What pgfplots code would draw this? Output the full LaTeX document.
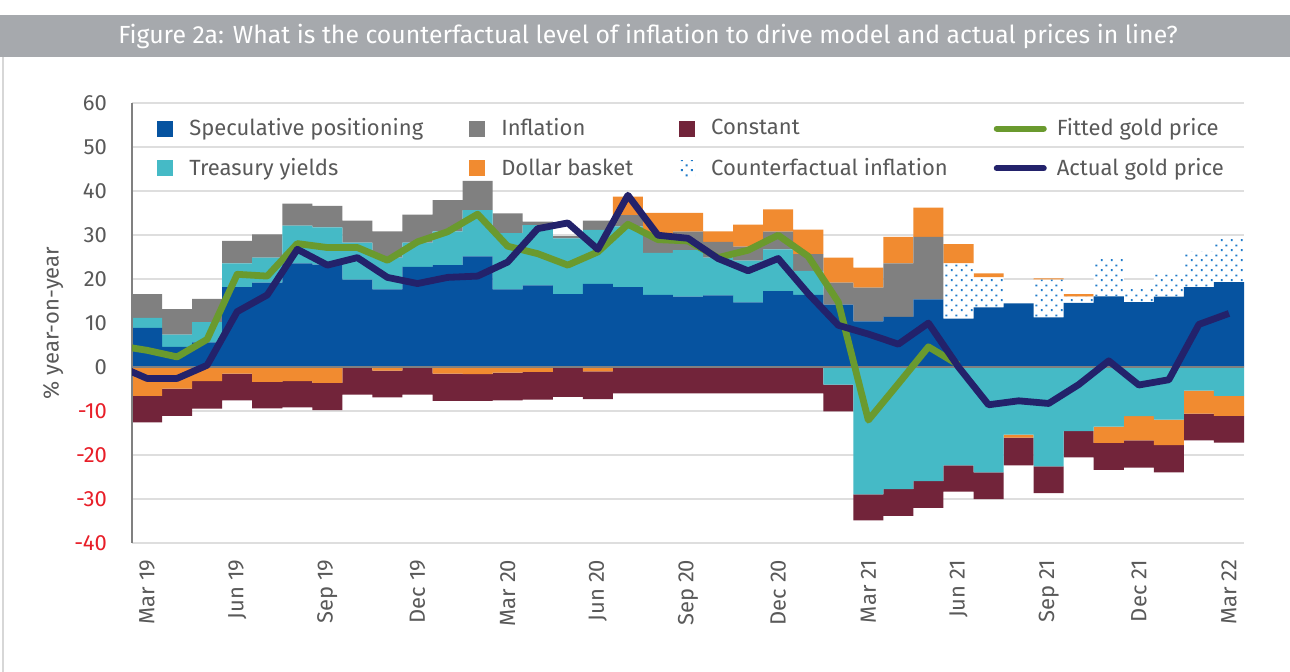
\documentclass[border=0pt]{standalone}
\usepackage{fontspec}
\setmainfont{Fira Sans}
\usepackage{pgfplots}
\pgfplotsset{compat=1.18}
\usepackage{pgfplotstable}
\usetikzlibrary{patterns,patterns.meta}

\definecolor{cSpec}{RGB}{6,83,160}
\definecolor{cTreas}{RGB}{69,186,198}
\definecolor{cInfl}{RGB}{128,128,128}
\definecolor{cDoll}{RGB}{241,139,48}
\definecolor{cConst}{RGB}{114,36,58}
\definecolor{cDot}{RGB}{31,122,200}
\definecolor{cFit}{RGB}{106,154,46}
\definecolor{cAct}{RGB}{35,34,107}
\definecolor{cTitle}{RGB}{166,169,173}
\definecolor{cText}{RGB}{89,89,89}
\definecolor{cNeg}{RGB}{232,30,40}
\definecolor{cGrid}{RGB}{222,222,222}
\definecolor{cAxisl}{RGB}{128,128,128}
\definecolor{cBorder}{RGB}{215,215,215}

\tikzdeclarepattern{
  name=cfdots,
  type=uncolored,
  bounding box={(0pt,0pt) and (5pt,5pt)},
  tile size={(5pt,5pt)},
  code={
    \pgfpathrectangle{\pgfpoint{0.5pt}{0.5pt}}{\pgfpoint{1pt}{1pt}}
    \pgfpathrectangle{\pgfpoint{3pt}{3pt}}{\pgfpoint{1pt}{1pt}}
    \pgfusepath{fill}
  }
}

\pgfplotstableread{
x spec treas infl cf dpos tneg dneg const
0 8.9 2.3 5.4 0 0 0 -6.6 -6.0
1 4.6 2.8 5.8 0 0 0 -4.9 -6.2
2 5.6 4.6 5.3 0 0 0 -3.2 -6.3
3 18.2 5.4 5.1 0 0 0 -1.5 -6.1
4 19.2 5.7 5.3 0 0 0 -3.4 -6.0
5 23.6 8.6 5.0 0 0 0 -3.2 -6.0
6 23.3 8.5 4.9 0 0 0 -3.6 -6.2
7 19.9 8.4 5.0 0 0 0 0 -6.3
8 17.7 7.2 6.0 0 0 0 -0.8 -6.1
9 22.8 5.5 6.4 0 0 0 0 -6.3
10 23.2 7.7 7.1 0 0 0 -1.5 -6.2
11 25.2 10.5 6.7 0 0 0 -1.6 -6.1
12 17.7 12.8 4.5 0 0 0 -1.3 -6.3
13 18.6 13.7 0.8 0 0 0 -1.1 -6.3
14 16.6 12.7 0.5 0 0 0 0 -6.8
15 18.9 12.3 2.1 0 0 0 -1.0 -6.3
16 18.2 13.8 2.6 0 4.2 0 0 -6.0
17 16.4 9.6 4.0 0 5.1 0 0 -6.0
18 16.0 10.6 4.2 0 4.3 0 0 -6.0
19 16.3 8.6 3.6 0 2.4 0 0 -6.0
20 14.7 9.5 3.2 0 5.0 0 0 -6.0
21 17.3 9.5 4.0 0 5.1 0 0 -6.0
22 16.4 5.5 3.8 0 5.6 0 0 -6.0
23 14.2 0 5.0 0 5.7 -4.0 0 -6.1
24 10.4 0 7.7 0 4.5 -29.0 0 -5.9
25 11.4 0 12.2 0 6.0 -27.8 0 -6.1
26 15.4 0 14.2 0 6.7 -26.0 0 -6.1
27 11.0 0 0 12.6 4.4 -22.4 0 -6.0
28 13.6 0 0 6.8 0.9 -24.0 0 -6.1
29 14.5 0 0 0 0 -15.4 -0.7 -6.3
30 11.3 0 0 8.6 0.3 -22.6 0 -6.1
31 14.6 0 0 1.4 0.6 -14.6 0 -6.0
32 16.1 0 0 8.7 0 -13.6 -3.7 -6.1
33 14.8 0 0 3.4 0 -11.2 -5.5 -6.2
34 16.0 0 0 5.1 0 -12.0 -5.8 -6.2
35 18.2 0 0 8.2 0 -5.4 -5.2 -6.1
36 19.3 0 0 10.0 0 -6.6 -4.5 -6.1
}\bars

\pgfplotstableread{
x fit act
-1 4.9 0.4
0 3.8 -2.6
1 2.3 -2.6
2 6.3 0.4
3 21.1 12.6
4 20.7 16.4
5 28.1 26.8
6 27.2 23.2
7 27.2 24.9
8 24.3 20.4
9 28.5 19.0
10 30.8 20.4
11 34.8 20.7
12 27.5 23.9
13 25.8 31.5
14 23.2 32.8
15 26.2 26.8
16 32.5 39.1
17 29.0 30.0
18 28.7 29.3
19 24.9 24.7
20 26.6 21.9
21 30.0 24.7
22 25.2 16.7
23 14.8 9.5
24 -12.1 7.5
25 -3.8 5.2
26 4.6 10.0
27 0.5 0.0
28 nan -8.6
29 nan -7.7
30 nan -8.3
31 nan -4.0
32 nan 1.4
33 nan -4.1
34 nan -2.9
35 nan 9.7
36 nan 12.2
}\lines

\pgfplotsset{
  base/.style={
    at={(66pt,64.65pt)}, anchor=south west,
    scale only axis, width=556pt, height=219.6pt,
    xmin=-0.5, xmax=36.5, ymin=-40, ymax=60,
    enlargelimits=false,
    axis line style={draw=none},
    tick style={draw=none},
    font=\fontsize{11}{13}\selectfont,
  },
  legbox/.style={legend image code/.code={\fill[##1] (0pt,-4pt) rectangle (8pt,4pt); \path (14pt,0pt);}},
  legline/.style={legend image code/.code={\draw[##1, line cap=round] (0pt,0pt) -- (23.5pt,0pt); \path (26.5pt,0pt);}},
}

\begin{document}
\begin{tikzpicture}
\useasboundingbox (0,0) rectangle (645pt,336pt);
\fill[white] (0,0) rectangle (645pt,336pt);
\fill[cTitle] (0pt,307.5pt) rectangle (645pt,328.5pt);
\node[text=white, font=\fontsize{12.4}{14}\selectfont] at (324pt,318pt) {Figure 2a: What is the counterfactual level of inflation to drive model and actual prices in line?};
\draw[cBorder, line width=1pt] (1.5pt,0) -- (1.5pt,307.5pt);

% positive stacks
\begin{axis}[base, ybar stacked, bar width=1,
  ytick={-40,-30,-20,-10,0,10,20,30,40,50,60},
  yticklabels={\textcolor{cNeg}{-40},\textcolor{cNeg}{-30},\textcolor{cNeg}{-20},\textcolor{cNeg}{-10},0,10,20,30,40,50,60},
  yticklabel style={text=cText, xshift=-9pt},
  ymajorgrids, major grid style={cGrid, line width=1pt},
  xtick={0,3,...,36},
  xticklabels={Mar 19,Jun 19,Sep 19,Dec 19,Mar 20,Jun 20,Sep 20,Dec 20,Mar 21,Jun 21,Sep 21,Dec 21,Mar 22},
  xticklabel style={text=cText, yshift=-5pt, rotate=90, anchor=east},
  ylabel={\% year-on-year},
  every axis y label/.style={at={(axis description cs:-0.071,0.5)}, rotate=90, anchor=center, text=cText},
]
\addplot[fill=cSpec, draw=none] table[x=x,y=spec]{\bars};
\addplot[fill=cTreas, draw=none] table[x=x,y=treas]{\bars};
\addplot[fill=cInfl, draw=none] table[x=x,y=infl]{\bars};
\addplot[fill=white, draw=none, postaction={pattern=cfdots, pattern color=cDot}] table[x=x,y=cf]{\bars};
\addplot[fill=cDoll, draw=none] table[x=x,y=dpos]{\bars};
\end{axis}

% negative stacks
\begin{axis}[base, ybar stacked, bar width=1, xtick=\empty, ytick=\empty]
\addplot[fill=cTreas, draw=none] table[x=x,y=tneg]{\bars};
\addplot[fill=cDoll, draw=none] table[x=x,y=dneg]{\bars};
\addplot[fill=cConst, draw=none] table[x=x,y=const]{\bars};
\end{axis}

% lines and legend
\begin{axis}[base, xtick=\empty, ytick=\empty, clip mode=individual,
  legend columns=4,
  legend cell align=left,
  legend style={at={(axis description cs:0.017,0.985)}, anchor=north west,
    draw=none, fill=none, text=cText, row sep=5.8pt,
    font=\fontsize{11}{13}\selectfont,
    /tikz/every even column/.append style={column sep=21pt}},
]
\draw[cAxisl, line width=1pt] (axis cs:-0.5,0) -- (axis cs:36.5,0);
\draw[cAxisl, line width=1.2pt] (axis cs:-0.5,-40) -- (axis cs:-0.5,60);
\addplot[cFit, line width=3.4pt, line join=round, mark=none, forget plot] table[x=x,y=fit]{\lines};
\addplot[cAct, line width=3.4pt, line join=round, mark=none, forget plot] table[x=x,y=act]{\lines};
\addlegendimage{legbox, fill=cSpec, draw=none}
\addlegendimage{legbox, fill=cInfl, draw=none}
\addlegendimage{legbox, fill=cConst, draw=none}
\addlegendimage{legline, cFit, line width=3pt}
\addlegendimage{legbox, fill=cTreas, draw=none}
\addlegendimage{legbox, fill=cDoll, draw=none}
\addlegendimage{legbox, fill=white, draw=none, postaction={pattern=cfdots, pattern color=cDot}}
\addlegendimage{legline, cAct, line width=3pt}
\legend{Speculative positioning, Inflation, Constant, Fitted gold price, Treasury yields, Dollar basket, Counterfactual inflation, Actual gold price}
\end{axis}
\end{tikzpicture}
\end{document}
